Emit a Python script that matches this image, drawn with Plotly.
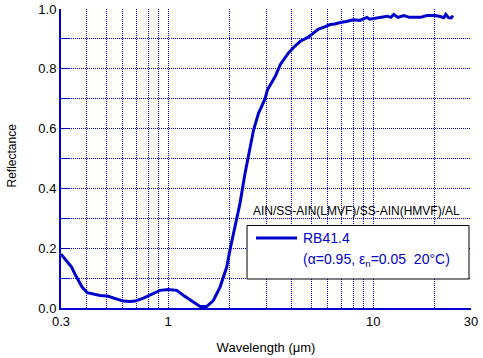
import plotly.graph_objects as go

# Data
wavelength = [0.300, 0.312, 0.325, 0.338, 0.350, 0.364, 0.380, 0.403, 0.430, 0.465, 0.505,
              0.550, 0.604, 0.650, 0.690, 0.757, 0.847, 0.913, 1.00, 1.10, 1.19, 1.33,
              1.43, 1.54, 1.66, 1.79, 1.93, 2.00, 2.12, 2.24, 2.37, 2.47, 2.61, 2.76,
              2.97, 3.05, 3.33, 3.52, 3.86, 4.10, 4.41, 4.80, 5.12, 5.41, 5.80, 6.17,
              6.50, 6.90, 7.40, 8.00, 8.60, 9.33, 9.60, 10.3, 11.0, 11.7, 12.2, 12.6,
              13.2, 14.1, 15.0, 16.4, 17.0, 18.3, 19.2, 20.1, 21.2, 22.1, 22.6, 23.3,
              24.0, 24.5]
reflectance = [0.180, 0.165, 0.150, 0.137, 0.115, 0.092, 0.070, 0.051, 0.047, 0.042, 0.040,
               0.033, 0.023, 0.022, 0.023, 0.033, 0.048, 0.059, 0.062, 0.059, 0.042, 0.019,
               0.005, 0.005, 0.025, 0.070, 0.137, 0.193, 0.270, 0.350, 0.450, 0.517, 0.596, 0.652,
               0.700, 0.730, 0.775, 0.814, 0.853, 0.872, 0.892, 0.905, 0.920, 0.933, 0.940, 0.948,
               0.950, 0.955, 0.958, 0.964, 0.962, 0.972, 0.966, 0.970, 0.972, 0.976, 0.972, 0.982,
               0.972, 0.978, 0.972, 0.971, 0.972, 0.978, 0.978, 0.978, 0.975, 0.971, 0.982, 0.971,
               0.970, 0.978]

x_tickvals = [0.3, 0.4, 0.5, 0.6, 0.7, 0.8, 0.9, 1, 2, 3, 4, 5, 6, 7, 8, 9, 10, 20, 30]
x_ticktext = ["0.3", "", "", "", "", "", "", "1", "", "", "", "", "", "", "", "", "10", "", "30"]
y_tickvals = [0.0, 0.1, 0.2, 0.3, 0.4, 0.5, 0.6, 0.7, 0.8, 0.9, 1.0]
y_ticktext = ["0.0", "", "0.2", "", "0.4", "", "0.6", "", "0.8", "", "1.0"]

series_label = "RB41.4"
series_note = "(α=0.95, ε<sub>n</sub>=0.05  20°C)"
sample_label = "AIN/SS-AIN(LMVF)/SS-AIN(HMVF)/AL"

BLUE = "#0000cc"
GRID = "#0000ff"
FONT = "Liberation Sans, Arial, sans-serif"

fig = go.Figure()
fig.add_trace(go.Scatter(x=wavelength, y=reflectance, mode="lines", name=series_label,
                         line=dict(color=BLUE, width=3), showlegend=False))

# legend box drawn by hand (paper coordinates)
shapes = [
    dict(type="rect", xref="paper", yref="paper", x0=0.4537, x1=0.9951, y0=0.097, y1=0.2760,
         fillcolor="white", line=dict(color="black", width=1), layer="above"),
    dict(type="line", xref="paper", yref="paper", x0=0.4756, x1=0.5756, y0=0.234, y1=0.234,
         line=dict(color=BLUE, width=3), layer="above"),
]
annotations = [
    dict(text=sample_label, x=0.7212, y=0.3244, xref="paper", yref="paper",
         showarrow=False, font=dict(size=12, color="black", family=FONT),
         xanchor="center", yanchor="middle"),
    dict(text=series_label, x=0.5895, y=0.234, xref="paper", yref="paper",
         showarrow=False, font=dict(size=14, color=BLUE, family=FONT),
         xanchor="left", yanchor="middle", xshift=-2),
    dict(text=series_note, x=0.5895, y=0.160, xref="paper", yref="paper",
         showarrow=False, font=dict(size=14, color=BLUE, family=FONT),
         xanchor="left", yanchor="middle", xshift=-2),
    dict(text="Reflectance", x=-49 / 410, y=0.51, xref="paper", yref="paper",
         showarrow=False, textangle=-90, font=dict(size=12, color="black", family=FONT),
         xanchor="center", yanchor="middle"),
]

fig.update_layout(
    width=483, height=358,
    margin=dict(l=61, r=12, t=9, b=50),
    paper_bgcolor="white", plot_bgcolor="white",
    font=dict(family=FONT, size=12, color="black"),
    shapes=shapes, annotations=annotations,
)
fig.update_xaxes(type="log", range=[-0.5228787, 1.4771213], automargin=False,
                 tickvals=x_tickvals, ticktext=x_ticktext,
                 showgrid=True, gridcolor=GRID, gridwidth=1, griddash="1px,1px",
                 showline=True, linecolor=BLUE, linewidth=2, ticks="", zeroline=False,
                 title=dict(text="Wavelength (μm)", font=dict(size=13)),
                 tickfont=dict(size=13))
fig.update_yaxes(range=[0, 1.0], tickvals=y_tickvals, ticktext=y_ticktext, automargin=False,
                 showgrid=True, gridcolor=GRID, gridwidth=1, griddash="1px,1px",
                 showline=True, linecolor=BLUE, linewidth=2, ticks="inside", ticklen=8,
                 tickcolor=BLUE, tickwidth=1, zeroline=False,
                 tickfont=dict(size=13))
fig.write_html("out.html", config={"displayModeBar": False},
               post_script="document.body.style.margin='0';document.body.style.padding='0';")
